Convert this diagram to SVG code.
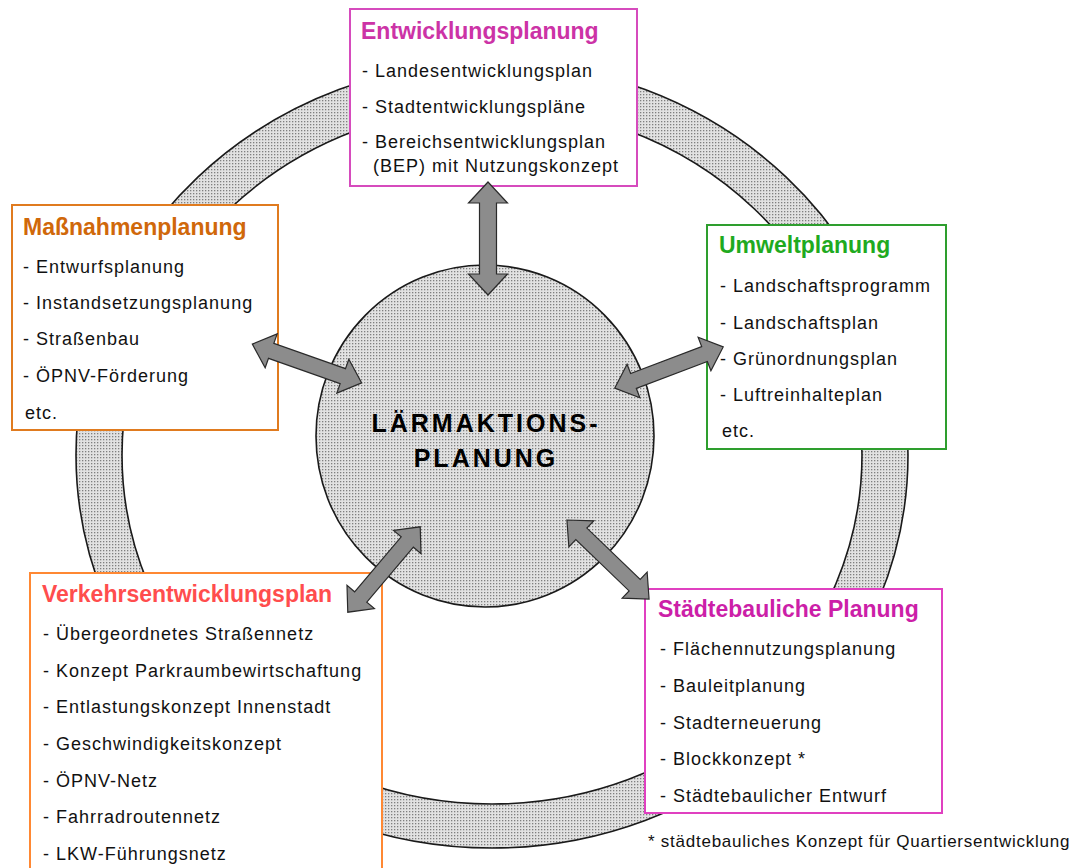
<svg xmlns="http://www.w3.org/2000/svg" width="1076" height="868" viewBox="0 0 1076 868">
<defs>
<pattern id="dots" width="3" height="3" patternUnits="userSpaceOnUse">
<rect width="3" height="3" fill="#e2e2e2"/>
<rect x="1" y="1" width="1.3" height="1.3" fill="#7f7f7f"/>
</pattern>
</defs>
<style>
.box{fill:#fff;stroke-width:2}
.title{font-family:"Liberation Sans",Arial,sans-serif;font-size:23px;font-weight:bold}
.item{font-family:"Liberation Sans",Arial,sans-serif;font-size:18px;fill:#111;letter-spacing:1px}
.arrow{fill:#8c8c8c;stroke:#2a2a2a;stroke-width:1.2;stroke-linejoin:miter}
.hatch{fill:url(#dots);stroke:#1a1a1a;stroke-width:1.6}
</style>
<rect width="1076" height="868" fill="#fff"/>

<g id="ring">
<path class="hatch" fill-rule="evenodd" d="M76,455 A416,393 0 1,0 908,455 A416,393 0 1,0 76,455 Z M122,455 A370,349 0 1,0 862,455 A370,349 0 1,0 122,455 Z"/>
</g>

<g id="node-entwicklungsplanung">
<rect class="box" x="350" y="9" width="287" height="177" stroke="#d64bbd"/>
<text class="title" x="361" y="39" fill="#cc33a6">Entwicklungsplanung</text>
<text class="item" x="362" y="77">- Landesentwicklungsplan</text>
<text class="item" x="362" y="113">- Stadtentwicklungspläne</text>
<text class="item" x="362" y="148">- Bereichsentwicklungsplan</text>
<text class="item" x="373" y="172">(BEP) mit Nutzungskonzept</text>
</g>

<g id="node-massnahmenplanung">
<rect class="box" x="12" y="205" width="266" height="225" stroke="#e07b1f"/>
<text class="title" x="23" y="235" fill="#d0680a">Maßnahmenplanung</text>
<text class="item" x="23" y="273">- Entwurfsplanung</text>
<text class="item" x="23" y="309">- Instandsetzungsplanung</text>
<text class="item" x="23" y="345">- Straßenbau</text>
<text class="item" x="23" y="382">- ÖPNV-Förderung</text>
<text class="item" x="25" y="419">etc.</text>
</g>

<g id="node-umweltplanung">
<rect class="box" x="707" y="225" width="239" height="224" stroke="#2e9e2e"/>
<text class="title" x="719" y="253" fill="#1faa1f">Umweltplanung</text>
<text class="item" x="720" y="292">- Landschaftsprogramm</text>
<text class="item" x="720" y="329">- Landschaftsplan</text>
<text class="item" x="720" y="365">- Grünordnungsplan</text>
<text class="item" x="720" y="401">- Luftreinhalteplan</text>
<text class="item" x="722" y="437">etc.</text>
</g>

<g id="node-verkehrsentwicklungsplan">
<rect class="box" x="30" y="573" width="352" height="320" stroke="#ff8833"/>
<text class="title" x="42" y="602" fill="#ff4d4d">Verkehrsentwicklungsplan</text>
<text class="item" x="43" y="640">- Übergeordnetes Straßennetz</text>
<text class="item" x="43" y="677">- Konzept Parkraumbewirtschaftung</text>
<text class="item" x="43" y="713">- Entlastungskonzept Innenstadt</text>
<text class="item" x="43" y="750">- Geschwindigkeitskonzept</text>
<text class="item" x="43" y="787">- ÖPNV-Netz</text>
<text class="item" x="43" y="823">- Fahrradroutennetz</text>
<text class="item" x="43" y="860">- LKW-Führungsnetz</text>
</g>

<g id="node-staedtebauliche-planung">
<rect class="box" x="645" y="589" width="297" height="224" stroke="#e040c0"/>
<text class="title" x="658" y="617" fill="#cc1fa8">Städtebauliche Planung</text>
<text class="item" x="660" y="655">- Flächennutzungsplanung</text>
<text class="item" x="660" y="692">- Bauleitplanung</text>
<text class="item" x="660" y="729">- Stadterneuerung</text>
<text class="item" x="660" y="765">- Blockkonzept *</text>
<text class="item" x="660" y="802">- Städtebaulicher Entwurf</text>
</g>

<g id="footnote">
<text x="648" y="847" font-family="Liberation Sans, Arial, sans-serif" font-size="17" letter-spacing="0.75" fill="#111">* städtebauliches Konzept für Quartiersentwicklung</text>
</g>

<g id="node-laermaktionsplanung">
<ellipse class="hatch" cx="485" cy="436" rx="169" ry="171"/>
<text x="486" y="432" text-anchor="middle" font-family="Liberation Sans, Arial, sans-serif" font-size="25" font-weight="bold" letter-spacing="3" fill="#000">LÄRMAKTIONS-</text>
<text x="486" y="467" text-anchor="middle" font-family="Liberation Sans, Arial, sans-serif" font-size="25" font-weight="bold" letter-spacing="3" fill="#000">PLANUNG</text>
</g>

<g id="connectors">
<polygon class="arrow" transform="translate(488,238.5) rotate(90)" points="-56.5,0 -35.5,-19.5 -35.5,-8.5 35.5,-8.5 35.5,-19.5 56.5,0 35.5,19.5 35.5,8.5 -35.5,8.5 -35.5,19.5"/>
<polygon class="arrow" transform="translate(307,363.5) rotate(19.5)" points="-58,0 -38,-18 -38,-8 38,-8 38,-18 58,0 38,18 38,8 -38,8 -38,18"/>
<polygon class="arrow" transform="translate(669,367.5) rotate(-20.8)" points="-58,0 -38,-18 -38,-8 38,-8 38,-18 58,0 38,18 38,8 -38,8 -38,18"/>
<polygon class="arrow" transform="translate(384,569.5) rotate(-49.7)" points="-56,0 -36,-18 -36,-8 36,-8 36,-18 56,0 36,18 36,8 -36,8 -36,18"/>
<polygon class="arrow" transform="translate(608,559.5) rotate(43.9)" points="-57,0 -37,-18 -37,-8 37,-8 37,-18 57,0 37,18 37,8 -37,8 -37,18"/>
</g>
</svg>
